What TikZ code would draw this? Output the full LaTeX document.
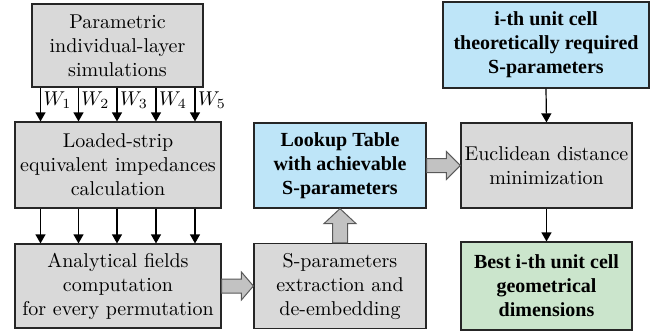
\documentclass[tikz,border=0pt]{standalone}
\usepackage{fontspec}
\newfontfamily\tnr{Liberation Serif}
\usetikzlibrary{calc,arrows.meta}
\definecolor{boxgray}{HTML}{D9D9D9}
\definecolor{boxblue}{HTML}{BEE5F8}
\definecolor{boxgreen}{HTML}{CBE5CC}
\definecolor{arrgray}{HTML}{C2C2C2}
\begin{document}
\begin{tikzpicture}[x=0.5pt,y=-0.5pt,
  box/.style={draw=black!85, line width=0.6pt, align=center, inner sep=0pt,
    font=\fontsize{10}{12}\selectfont},
  graybox/.style={box, fill=boxgray},
  boldtext/.style={font=\fontsize{10}{12}\selectfont\tnr\bfseries},
  bluebox/.style={box, fill=boxblue, boldtext},
  greenbox/.style={box, fill=boxgreen, boldtext},
  thinarrow/.style={line width=0.6pt, -{Triangle[length=4.5pt,width=5pt]}},
  blockarrow/.style={draw=black!65, fill=arrgray, line width=0.5pt, line join=miter},
  wlabel/.style={right, inner sep=1.2pt, font=\fontsize{10}{12}\selectfont}
]
\useasboundingbox (0,0) rectangle (660,334);

\node[graybox, minimum width=85.5pt, minimum height=41.5pt] (par) at (117.5,45.5)
  {Parametric\\individual-layer\\simulations};
\node[graybox, minimum width=103pt, minimum height=43pt] (load) at (118,165)
  {Loaded-strip\\equivalent impedances\\calculation};
\node[graybox, minimum width=103pt, minimum height=42pt] (an) at (118,286)
  {Analytical fields\\computation\\for every permutation};
\node[bluebox, minimum width=86pt, minimum height=42.5pt] (lu) at (340,165.5)
  {Lookup Table\\with achievable\\S-parameters};
\node[graybox, minimum width=86pt, minimum height=42.5pt] (sp) at (340,286)
  {S-parameters\\extraction and\\de-embedding};
\node[bluebox, minimum width=103pt, minimum height=43pt] (req) at (546,45)
  {i-th unit cell\\theoretically required\\S-parameters};
\node[graybox, minimum width=85.5pt, minimum height=42.5pt] (eu) at (546.5,165.5)
  {Euclidean distance\\minimization};
\node[greenbox, minimum width=85.5pt, minimum height=44pt] (best) at (546.5,286)
  {Best i-th unit cell\\geometrical\\dimensions};

% W arrows
\foreach \dx/\i in {-77/1,-39/2,-0.5/3,38.5/4,77.5/5}{
  \draw[thinarrow] ($(par.south)+(\dx,0)$) -- ($(load.north)+(\dx-0.5,0)$)
    node[wlabel, pos=0.36] {$W_{\i}$};
  \draw[thinarrow] ($(load.south)+(\dx-0.5,0)$) -- ($(an.north)+(\dx-0.5,0)$);
}

\draw[thinarrow] (req.south) -- (eu.north);
\draw[thinarrow] (eu.south) -- (best.north);

% block arrows
\draw[blockarrow] ($(an.east)+(0,-7)$) -- ($(sp.west)+(-12,-7)$) -- ($(sp.west)+(-12,-14)$)
  -- (sp.west) -- ($(sp.west)+(-12,14)$) -- ($(sp.west)+(-12,7)$) -- ($(an.east)+(0,7)$) -- cycle;
\draw[blockarrow] ($(sp.north)+(-7.5,0)$) -- ($(lu.south)+(-7.5,15)$) -- ($(lu.south)+(-16,15)$)
  -- (lu.south) -- ($(lu.south)+(16,15)$) -- ($(lu.south)+(7.5,15)$) -- ($(sp.north)+(7.5,0)$) -- cycle;
\draw[blockarrow] ($(lu.east)+(0,-7)$) -- ($(eu.west)+(-14,-7)$) -- ($(eu.west)+(-14,-14)$)
  -- (eu.west) -- ($(eu.west)+(-14,14)$) -- ($(eu.west)+(-14,7)$) -- ($(lu.east)+(0,7)$) -- cycle;
\end{tikzpicture}
\end{document}
